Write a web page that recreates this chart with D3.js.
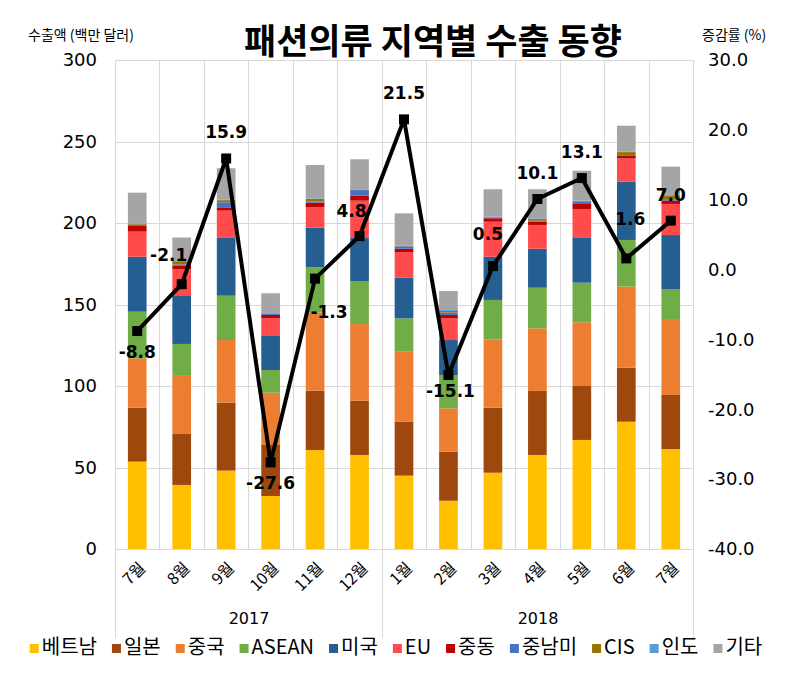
<!DOCTYPE html>
<html>
<head>
<meta charset="utf-8">
<script src="https://cdn.jsdelivr.net/npm/d3@7"></script>
<style>
  body { margin: 0; background: #fff; }
  svg { display: block; }
</style>
</head>
<body>
<svg id="chart" width="800" height="679"></svg>
<script>
// ---- data ----
const months = ["7월","8월","9월","10월","11월","12월","1월","2월","3월","4월","5월","6월","7월"];
const years = [{label:"2017", from:0, to:6}, {label:"2018", from:6, to:13}];
const seriesNames = ["베트남","일본","중국","ASEAN","미국","EU","중동","중남미","CIS","인도","기타"];
const vietnam = [53.6, 39.3, 48.1, 32.5, 60.7, 57.7, 45.0, 29.6, 46.8, 57.7, 66.9, 78.1, 61.3];
const japan   = [33.1, 31.3, 41.7, 31.3, 36.4, 33.3, 33.0, 30.1, 39.9, 39.3, 33.1, 33.1, 33.2];
const china   = [30.3, 36.1, 38.4, 32.1, 47.9, 47.0, 43.0, 26.6, 41.9, 38.4, 39.1, 49.8, 46.6];
const asean   = [28.6, 19.1, 27.2, 13.9, 27.8, 26.4, 20.5, 20.4, 24.2, 24.9, 24.3, 28.6, 18.4];
const usa     = [33.7, 29.4, 35.8, 20.9, 24.3, 26.8, 24.9, 21.5, 26.5, 23.9, 27.8, 35.7, 33.1];
const eu      = [15.4, 16.5, 16.4, 10.8, 12.5, 22.5, 15.8, 13.3, 21.5, 14.6, 17.4, 14.3, 19.1];
const mideast = [3.5, 2.3, 2.0, 2.1, 2.9, 3.0, 2.0, 2.1, 2.1, 2.0, 3.5, 1.6, 2.0];
const latam   = [0.8, 0.6, 3.1, 0.8, 0.8, 3.5, 1.5, 1.5, 0.5, 0.6, 0.8, 0.5, 0.5];
const cis     = [0.5, 2.0, 1.3, 0.2, 1.5, 0.3, 0.3, 1.0, 0.3, 1.2, 0.5, 1.8, 2.5];
const india   = [0.3, 0.2, 0.3, 0.2, 0.3, 0.2, 0.2, 0.5, 0.2, 0.3, 0.3, 0.2, 0.5];
const others  = [18.8, 14.3, 19.3, 12.1, 20.5, 18.4, 19.7, 11.7, 16.8, 17.8, 18.4, 16.0, 17.4];
const growth  = [-8.8, -2.1, 15.9, -27.6, -1.3, 4.8, 21.5, -15.1, 0.5, 10.1, 13.1, 1.6, 7.0];
const leftTicks = [0, 50, 100, 150, 200, 250, 300];
const rightTicks = [-40, -30, -20, -10, 0, 10, 20, 30];
const colors = ["#FFC000","#9E480E","#ED7D31","#70AD47","#255E91","#FF4B4B","#C00000","#4472C4","#997300","#5B9BD5","#A5A5A5"];
// label placement for growth data labels
const labelPlace = ["below","upleft","above","below","downright","upleft2","above","below2","aboveleft","above","above","high","above"];

// ---- layout ----
const svg = d3.select("#chart");
const plot = {left: 115, right: 693, top: 60, bottom: 549};
const KR = "'Noto Sans CJK KR', 'Noto Sans', sans-serif";
const NUM = "'DejaVu Sans', Verdana, sans-serif";
const fmt1 = v => v.toFixed(1);

const x = d3.scaleBand().domain(d3.range(months.length)).range([plot.left, plot.right]).paddingInner(0.58).paddingOuter(0.29);
const yL = d3.scaleLinear().domain([0, 300]).range([plot.bottom, plot.top]);
const yR = d3.scaleLinear().domain([-40, 30]).range([plot.bottom, plot.top]);
const edge = b => Math.round(plot.left + b * (plot.right - plot.left) / months.length) + 0.5;

// gridlines
const grid = svg.append("g").attr("stroke", "#d9d9d9").attr("stroke-width", 1);
leftTicks.forEach(t => {
  grid.append("line").attr("x1", plot.left).attr("x2", plot.right)
    .attr("y1", Math.round(yL(t)) + 0.5).attr("y2", Math.round(yL(t)) + 0.5);
});
for (let i = 0; i <= months.length; i++) {
  grid.append("line").attr("x1", edge(i)).attr("x2", edge(i)).attr("y1", plot.top).attr("y2", plot.bottom);
}
// year dividers extending below axis
years.forEach(yr => {
  [yr.from, yr.to].forEach(b => {
    grid.append("line").attr("x1", edge(b)).attr("x2", edge(b)).attr("y1", plot.bottom).attr("y2", 638);
  });
});

// stacked bars
const rows = months.map((m, i) => {
  const r = {i};
  [vietnam, japan, china, asean, usa, eu, mideast, latam, cis, india, others].forEach((arr, k) => r[seriesNames[k]] = arr[i]);
  return r;
});
const stack = d3.stack().keys(seriesNames)(rows);
svg.append("g").selectAll("g").data(stack).join("g")
  .attr("fill", (d, k) => colors[k])
  .selectAll("rect").data(d => d).join("rect")
  .attr("x", d => x(d.data.i))
  .attr("width", x.bandwidth())
  .attr("y", d => yL(d[1]))
  .attr("height", d => Math.max(0, yL(d[0]) - yL(d[1])));

// left axis
const axL = d3.axisLeft(yL).tickValues(leftTicks).tickSize(0).tickPadding(18);
const gL = svg.append("g").attr("transform", `translate(${plot.left},0)`).call(axL);
gL.select(".domain").remove();
gL.selectAll("text").attr("font-family", NUM).attr("font-size", 18).attr("fill", "#000");

// right axis
const axR = d3.axisRight(yR).tickValues(rightTicks).tickSize(0).tickPadding(15).tickFormat(fmt1);
const gR = svg.append("g").attr("transform", `translate(${plot.right},0)`).call(axR);
gR.select(".domain").remove();
gR.selectAll("text").attr("font-family", NUM).attr("font-size", 18).attr("fill", "#000");

// bottom axis line
svg.append("line").attr("x1", plot.left).attr("x2", plot.right)
  .attr("y1", plot.bottom + 0.5).attr("y2", plot.bottom + 0.5).attr("stroke", "#d9d9d9");

// month labels
const axB = d3.axisBottom(x).tickFormat(i => months[i]).tickSize(0);
const gB = svg.append("g").attr("transform", `translate(0,${plot.bottom})`).call(axB);
gB.select(".domain").remove();
gB.selectAll("text")
  .attr("font-family", KR).attr("font-size", 16).attr("fill", "#000")
  .attr("text-anchor", "end").attr("dy", null).attr("y", null)
  .attr("transform", "translate(6,17) rotate(-45)")
  .attr("dominant-baseline", "middle");

// year labels
years.forEach(yr => {
  svg.append("text").attr("x", (edge(yr.from) + edge(yr.to)) / 2).attr("y", 624).attr("text-anchor", "middle")
    .attr("font-family", NUM).attr("font-size", 16).text(yr.label);
});

// growth line
const cx = i => x(i) + x.bandwidth() / 2;
const line = d3.line().x((d, i) => cx(i)).y(d => yR(d));
svg.append("path").datum(growth).attr("d", line)
  .attr("fill", "none").attr("stroke", "#000").attr("stroke-width", 4).attr("stroke-linejoin", "round");
svg.append("g").selectAll("rect").data(growth).join("rect")
  .attr("x", (d, i) => cx(i) - 5).attr("y", d => yR(d) - 5)
  .attr("width", 10).attr("height", 10).attr("fill", "#000");

// data labels
const offsets = {
  above: [0, -25], below: [0, 22], below2: [2, 17], upleft: [-13, -28], upleft2: [-8, -24],
  downright: [14, 34], aboveleft: [-5, -31], high: [4, -38]
};
svg.append("g").selectAll("text").data(growth).join("text")
  .attr("x", (d, i) => cx(i) + offsets[labelPlace[i]][0])
  .attr("y", (d, i) => yR(d) + offsets[labelPlace[i]][1])
  .attr("text-anchor", "middle").attr("dominant-baseline", "middle")
  .attr("font-family", NUM).attr("font-weight", "bold").attr("font-size", 17)
  .attr("fill", "#000")
  .text(fmt1);

// title
svg.append("text").attr("x", 433).attr("y", 54).attr("text-anchor", "middle")
  .attr("font-family", KR).attr("font-weight", "bold").attr("font-size", 35)
  .text("패션의류 지역별 수출 동향");

// axis titles
svg.append("text").attr("x", 28).attr("y", 40).attr("font-family", KR).attr("font-size", 14).text("수출액 (백만 달러)");
svg.append("text").attr("x", 702).attr("y", 40).attr("font-family", KR).attr("font-size", 14).text("증감률 (%)");

// legend
const lg = svg.append("g");
let lx = 0;
const gap = 15;
seriesNames.forEach((name, k) => {
  const g = lg.append("g");
  g.append("rect").attr("x", 0).attr("y", -5).attr("width", 9).attr("height", 9).attr("fill", colors[k]);
  const t = g.append("text").attr("x", 12).attr("y", 0).attr("dominant-baseline", "middle")
    .attr("font-family", KR).attr("font-size", 20).text(name);
  const w = 12 + t.node().getComputedTextLength();
  g.attr("transform", `translate(${lx},0)`);
  lx += w + gap;
});
const totalW = lx - gap;
lg.attr("transform", `translate(${396 - totalW / 2},649)`);
</script>
</body>
</html>
